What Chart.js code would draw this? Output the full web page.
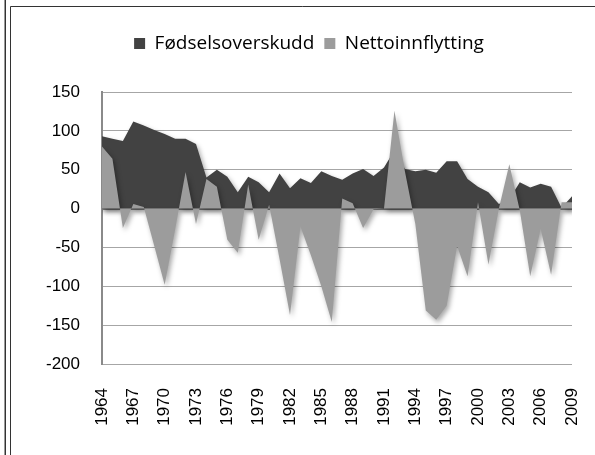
<!DOCTYPE html>
<html>
<head>
<meta charset="utf-8">
<script src="https://cdn.jsdelivr.net/npm/chart.js@4.4.1/dist/chart.umd.min.js"></script>
<style>
  html, body { margin: 0; padding: 0; background: #fff; }
  #wrap { width: 595px; height: 455px; }
</style>
</head>
<body>
<div id="wrap"><canvas id="chart" width="595" height="455"></canvas></div>
<script>
// data (population change per year)
const years = [
  '1964','1965','1966','1967','1968','1969','1970','1971','1972','1973',
  '1974','1975','1976','1977','1978','1979','1980','1981','1982','1983',
  '1984','1985','1986','1987','1988','1989','1990','1991','1992','1993',
  '1994','1995','1996','1997','1998','1999','2000','2001','2002','2003',
  '2004','2005','2006','2007','2008','2009'
];
const fodselsoverskudd = [
  93, 90, 87, 112, 107, 101, 96, 90, 90, 83,
  40, 50, 41, 21, 41, 34, 21, 45, 26, 39,
  33, 48, 42, 37, 45, 51, 42, 53, 75, 51,
  48, 50, 46, 61, 61, 38, 28, 21, 6, 12,
  34, 27, 32, 28, 1, 16
];
const nettoinnflytting = [
  80, 64, -25, 6, 2, -48, -98, -27, 47, -20,
  38, 28, -40, -57, 31, -40, 5, -65, -137, -23,
  -60, -100, -146, 13, 7, -25, -1, 0, 126, 48,
  -20, -131, -143, -125, -48, -87, 8, -72, 0, 57,
  -2, -87, -26, -85, 8, 8
];
const yTicks = [-200, -150, -100, -50, 0, 50, 100, 150];

const tickFont = { family: '"Liberation Sans", Arial, sans-serif', size: 17 };

// frame lines round the chart, like the original export
const framePlugin = {
    id: 'frame',
    beforeDraw(chart) {
        const ctx = chart.ctx;
        ctx.save();
        ctx.fillStyle = '#fff';
        ctx.fillRect(0, 0, chart.width, chart.height);
        ctx.strokeStyle = '#9a9a9a';
        ctx.lineWidth = 1;
        ctx.beginPath();
        ctx.moveTo(4.5, 0); ctx.lineTo(4.5, chart.height);
        ctx.stroke();
        ctx.strokeStyle = '#333';
        ctx.beginPath();
        ctx.moveTo(5.5, 0); ctx.lineTo(5.5, chart.height);
        ctx.moveTo(10.5, chart.height); ctx.lineTo(10.5, 6.5); ctx.lineTo(chart.width, 6.5);
        ctx.stroke();
        ctx.restore();
    }
};

// soft shadow under the areas
const shadowPlugin = {
    id: 'areaShadow',
    beforeDatasetsDraw(chart) {
        const ctx = chart.ctx;
        ctx.save();
        ctx.shadowColor = 'rgba(0,0,0,0.35)';
        ctx.shadowBlur = 5;
        ctx.shadowOffsetX = 2;
        ctx.shadowOffsetY = 3;
    },
    afterDatasetsDraw(chart) {
        chart.ctx.restore();
    }
};

// legend box: fixed height, nudged right to sit like the original
const legendBox = {
    id: 'legendBox',
    beforeInit(chart) {
        const fit = chart.legend.fit;
        chart.legend.fit = function () {
            fit.bind(chart.legend)();
            this.height = 68;
        };
    },
    afterLayout(chart) {
        chart.legend.left += 18;
        chart.legend.right += 18;
    }
};

const ctx = document.getElementById('chart').getContext('2d');
new Chart(ctx, {
    type: 'line',
    data: {
        labels: years,
        datasets: [
            {
                label: 'Fødselsoverskudd',
                data: fodselsoverskudd,
                backgroundColor: '#424242',
                borderWidth: 0,
                pointRadius: 0,
                fill: 'origin',
                order: 1
            },
            {
                label: 'Nettoinnflytting',
                data: nettoinnflytting,
                backgroundColor: '#9c9c9c',
                borderWidth: 0,
                pointRadius: 0,
                fill: 'origin',
                order: 0
            }
        ]
    },
    options: {
        responsive: false,
        animation: false,
        layout: { padding: { left: 10, right: 23, top: 24, bottom: 0 } },
        plugins: {
            legend: {
                position: 'top',
                labels: {
                    boxWidth: 11,
                    boxHeight: 11,
                    padding: 10,
                    color: '#000',
                    font: { family: '"Open Sans", sans-serif', size: 19 },
                    sort: (a, b) => a.datasetIndex - b.datasetIndex
                }
            },
            tooltip: { enabled: false }
        },
        scales: {
            x: {
                offset: false,
                grid: { display: false, drawTicks: false },
                border: { display: false },
                ticks: {
                    autoSkip: false,
                    maxRotation: 90,
                    minRotation: 90,
                    padding: 24,
                    color: '#000',
                    font: tickFont,
                    callback: function (value, index) {
                        return index % 3 === 0 ? years[index] : '';
                    }
                },
                afterFit: function (scale) {
                    scale.height = 91;
                    scale.paddingLeft = 0;
                    scale.paddingRight = 0;
                }
            },
            y: {
                min: -200,
                max: 150,
                afterBuildTicks: function (scale) {
                    scale.ticks = yTicks.map(v => ({ value: v }));
                },
                grid: {
                    drawTicks: false,
                    color: ctx => ctx.tick && ctx.tick.value === 0 ? '#8a8a8a' : '#a6a6a6',
                    lineWidth: ctx => ctx.tick && ctx.tick.value === 0 ? 2 : 1
                },
                border: { display: true, color: '#8a8a8a', width: 2 },
                ticks: {
                    padding: 22,
                    color: '#000',
                    font: tickFont
                },
                afterFit: function (scale) { scale.width = 92; }
            }
        }
    },
    plugins: [framePlugin, shadowPlugin, legendBox]
});
</script>
</body>
</html>
